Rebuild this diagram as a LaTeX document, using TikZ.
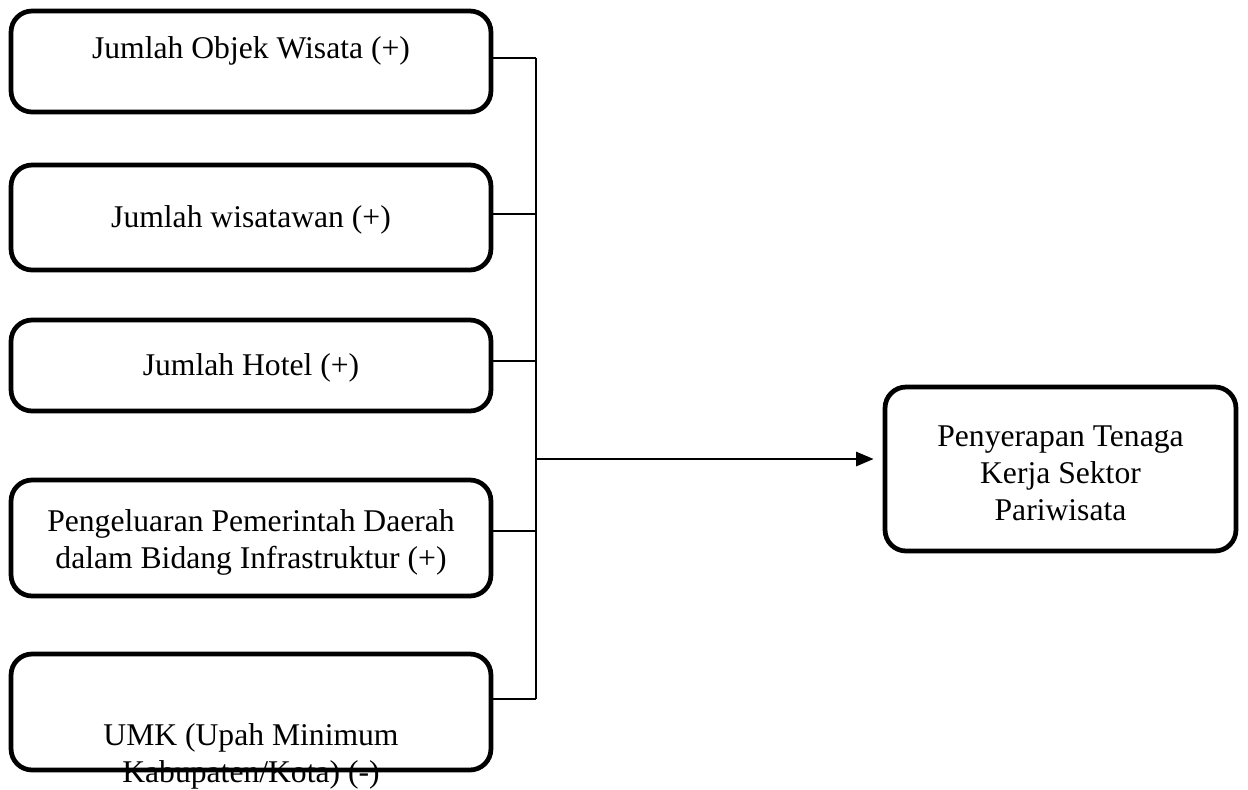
\documentclass[tikz,border=0pt]{standalone}
\usepackage{fontspec}
\setmainfont{Liberation Serif}
\usetikzlibrary{arrows.meta}

\begin{document}
\begin{tikzpicture}[x=0.02cm, y=-0.02cm,
    varbox/.style={draw, line width=2.7pt, rounded corners=0.42cm, minimum width=9.6cm, inner sep=0pt},
    vartext/.style={align=center, inner sep=0pt, font=\fontsize{18}{21}\selectfont},
    link/.style={line width=1.1pt}]
\useasboundingbox (0,0) rectangle (1248,789);
\node [varbox, minimum height=2.02cm] (objek) at (251,61.5) {};
\node [varbox, minimum height=2.1cm] (wisatawan) at (251,217.5) {};
\node [varbox, minimum height=1.82cm] (hotel) at (251,365.5) {};
\node [varbox, minimum height=2.32cm] (belanja) at (251,538) {};
\node [varbox, minimum height=2.32cm] (umk) at (251,712) {};
\node [varbox, minimum width=7.02cm, minimum height=3.28cm] (tenaga) at (1060.5,469) {};
\node [vartext] (objektext) at (251,51) {Jumlah Objek Wisata (+)};
\node [vartext] (wisatawantext) at (251,220) {Jumlah wisatawan (+)};
\node [vartext] (hoteltext) at (251,368) {Jumlah Hotel (+)};
\node [vartext] (belanjatext) at (251,542) {Pengeluaran Pemerintah Daerah\\dalam Bidang Infrastruktur (+)};
\node [vartext] (umktext) at (251,756) {UMK (Upah Minimum\\Kabupaten/Kota) (-)};
\node [vartext] (tenagatext) at (1060.5,473) {Penyerapan Tenaga\\Kerja Sektor\\Pariwisata};
\coordinate (j1) at (536,58);
\coordinate (j2) at (536,214);
\coordinate (j3) at (536,361);
\coordinate (j4) at (536,531);
\coordinate (j5) at (536,699);
\coordinate (jout) at (536,459);
\draw [link] (objek.east |- j1) -- (j1);
\draw [link] (wisatawan.east |- j2) -- (j2);
\draw [link] (hotel.east |- j3) -- (j3);
\draw [link] (belanja.east |- j4) -- (j4);
\draw [link] (umk.east |- j5) -- (j5);
\draw [link] (j1) -- (j5);
\draw [link, line width=1.5pt, -{Triangle[length=10pt, width=8pt]}, shorten >=0.18cm] (jout) -- (tenaga.west |- jout);
\end{tikzpicture}
\end{document}
